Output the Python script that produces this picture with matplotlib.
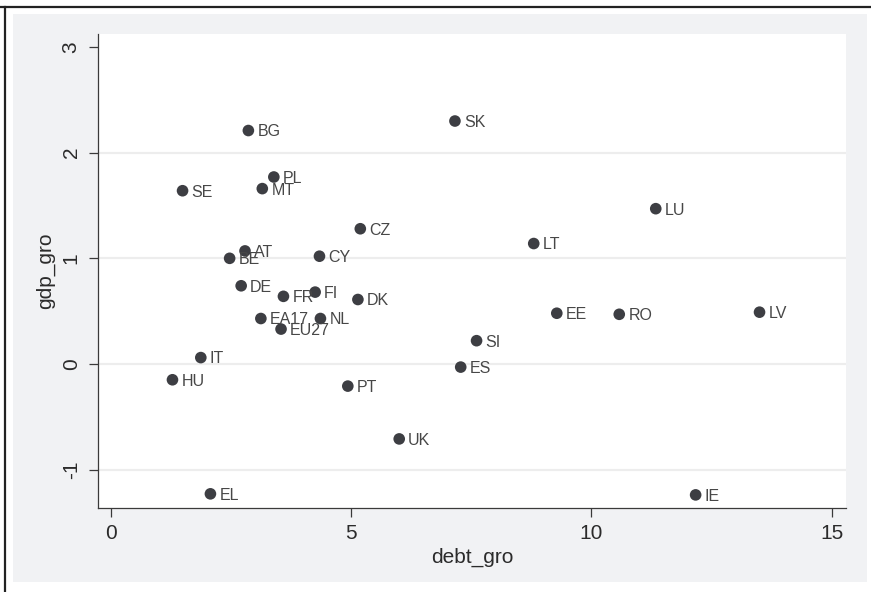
import numpy as np
import matplotlib.pyplot as plt
from matplotlib.patches import Rectangle
from matplotlib.lines import Line2D

# growth of public debt vs. GDP growth by country
countries = ['BG', 'SK', 'PL', 'MT', 'SE', 'LU', 'CZ', 'LT', 'AT', 'BE',
             'CY', 'DE', 'FR', 'FI', 'DK', 'EE', 'RO', 'LV', 'EA17', 'NL',
             'EU27', 'SI', 'IT', 'ES', 'HU', 'PT', 'UK', 'EL', 'IE']
debt_gro = [2.86, 7.16, 3.39, 3.15, 1.49, 11.34, 5.19, 8.80, 2.79, 2.47,
            4.34, 2.71, 3.59, 4.25, 5.14, 9.28, 10.58, 13.50, 3.12, 4.36,
            3.54, 7.61, 1.87, 7.28, 1.28, 4.93, 6.00, 2.07, 12.17]
gdp_gro = [2.21, 2.30, 1.77, 1.66, 1.64, 1.47, 1.28, 1.14, 1.07, 1.00,
           1.02, 0.74, 0.64, 0.68, 0.61, 0.48, 0.47, 0.49, 0.43, 0.43,
           0.33, 0.22, 0.06, -0.03, -0.15, -0.21, -0.71, -1.23, -1.24]

xticks = [0, 5, 10, 15]
yticks = [-1, 0, 1, 2, 3]
ygrid = [-1, 0, 1, 2]

plt.rcParams['font.family'] = ['Liberation Sans', 'DejaVu Sans']
plt.rcParams['axes.unicode_minus'] = False

W, H = 871, 592
fig = plt.figure(figsize=(W / 100, H / 100), dpi=100)
fig.patch.set_facecolor('white')

# grey graph region with the outer frame
fig.add_artist(Rectangle((12.7 / W, 1 - 582 / H), (866.7 - 12.7) / W, (582 - 14) / H,
                         transform=fig.transFigure, facecolor='#f1f2f4',
                         edgecolor='none', zorder=0))
fig.add_artist(Line2D([0, 1], [1 - 6.5 / H] * 2, color='#222222', lw=1.6))
fig.add_artist(Line2D([4.5 / W] * 2, [0, 1 - 6.5 / H], color='#222222', lw=1.6))

ax = fig.add_axes([98 / W, 1 - 508.3 / H, (846 - 98) / W, (508.3 - 34) / H])
ax.set_facecolor('white')

for g in ygrid:
    ax.axhline(g, color='#ededed', lw=1.6, zorder=1)

ax.scatter(debt_gro, gdp_gro, s=70, color='#3d3e43', edgecolors='none', zorder=3)
for c, x, y in zip(countries, debt_gro, gdp_gro):
    ax.annotate(c, (x, y), xytext=(6.5, -1), textcoords='offset points',
                ha='left', va='center', fontsize=11.5, color='#474747', zorder=4)

ax.set_xlim(-0.27, 15.3)
ax.set_ylim(-1.367, 3.124)
ax.set_xticks(xticks)
ax.set_yticks(yticks)
for s in ['top', 'right']:
    ax.spines[s].set_visible(False)
for s in ['left', 'bottom']:
    ax.spines[s].set_color('#3a3a3a')
    ax.spines[s].set_linewidth(0.9)
ax.tick_params(direction='out', length=6.5, width=0.9, color='#3a3a3a',
               labelsize=15, labelcolor='#2b2b2b', pad=5)
ax.tick_params(axis='y', labelrotation=90, pad=6)
for lbl in ax.get_yticklabels():
    lbl.set_va('center')

ax.set_xlabel('debt_gro', fontsize=15, color='#2b2b2b', labelpad=3)
ax.set_ylabel('gdp_gro', fontsize=15, color='#2b2b2b', labelpad=5)

fig.savefig('out.png', dpi=100)
